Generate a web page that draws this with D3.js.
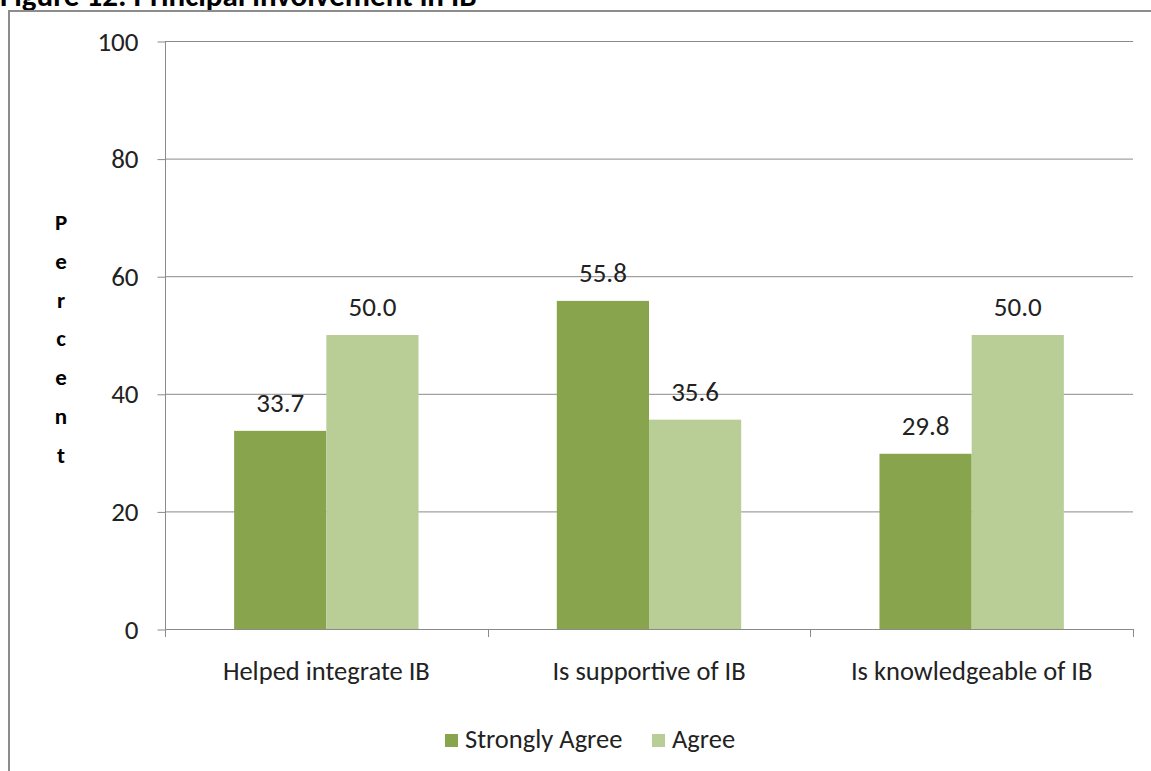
<!DOCTYPE html>
<html><head><meta charset="utf-8">
<script src="https://cdn.jsdelivr.net/npm/d3@7"></script>
<style>body{margin:0;background:#fff;} svg{display:block;}</style>
</head><body>
<script>
const categories = ["Helped integrate IB", "Is supportive of IB", "Is knowledgeable of IB"];
const seriesNames = ["Strongly Agree", "Agree"];
const stronglyAgree = [33.7, 55.8, 29.8];
const agree = [50.0, 35.6, 50.0];
const yTicks = [0, 20, 40, 60, 80, 100];
const colors = ["#88A44C", "#B9CE97"];
const titleText = "Figure 12: Principal involvement in IB";
const axisLabel = "Percent";

const W = 1151, H = 771;
const svg = d3.select("body").append("svg").attr("width", W).attr("height", H);
const font = "Carlito, Calibri, 'Open Sans', sans-serif";

// title (cropped at top)
svg.append("text").attr("x", 0).attr("y", 6).attr("font-family", font)
  .attr("font-weight", "bold").attr("font-size", 31).attr("fill", "#000").text(titleText);

// frame
svg.append("rect").attr("x", 9).attr("y", 11).attr("width", 1160).attr("height", 800)
  .attr("fill", "none").attr("stroke", "#8c8c8c").attr("stroke-width", 2);

const pLeft = 165, pRight = 1133, pTop = 41, pBottom = 629;
const y = d3.scaleLinear().domain([0, 100]).range([pBottom, pTop]);
const x0 = d3.scaleBand().domain(categories).range([pLeft, pRight]).paddingInner(0).paddingOuter(0);
const data = categories.map((c, i) => ({cat: c, vals: [stronglyAgree[i], agree[i]]}));
const bw = x0.bandwidth() / 3.5;
const x1 = d3.scaleBand().domain(seriesNames).range([(x0.bandwidth() - 2 * bw) / 2, (x0.bandwidth() + 2 * bw) / 2]).padding(0);

// gridlines
svg.append("g").selectAll("line").data(yTicks.filter(t => t > 0)).join("line")
  .attr("x1", pLeft).attr("x2", pRight).attr("y1", d => y(d) + 0.5).attr("y2", d => y(d) + 0.5)
  .attr("stroke", "#8a8a8a").attr("stroke-width", 1);

// y axis
const yAxis = d3.axisLeft(y).tickValues(yTicks).tickSize(8).tickPadding(19).tickFormat(d3.format("d"));
const yg = svg.append("g").attr("transform", `translate(${pLeft + 0.5},0.5)`).call(yAxis);
yg.select(".domain").attr("stroke", "#8a8a8a").attr("d", `M0,${pTop}V${pBottom}`);
yg.selectAll(".tick line").attr("stroke", "#8a8a8a");
yg.selectAll(".tick text").attr("font-family", font).attr("font-size", 27).attr("fill", "#222");

// bars
const groups = svg.append("g").selectAll("g").data(data).join("g")
  .attr("transform", d => `translate(${x0(d.cat)},0)`);
groups.selectAll("rect").data(d => d.vals.map((v, i) => ({name: seriesNames[i], v, i}))).join("rect")
  .attr("x", d => x1(d.name)).attr("width", x1.bandwidth())
  .attr("y", d => y(d.v)).attr("height", d => y(0) - y(d.v))
  .attr("fill", d => colors[d.i]);
groups.selectAll("text.val").data(d => d.vals.map((v, i) => ({name: seriesNames[i], v, i}))).join("text")
  .attr("class", "val")
  .attr("x", d => x1(d.name) + x1.bandwidth() / 2).attr("y", d => y(d.v) - 19)
  .attr("text-anchor", "middle").attr("font-family", font).attr("font-size", 27).attr("fill", "#222")
  .text(d => d3.format(".1f")(d.v));

// x axis
const xAxis = d3.axisBottom(x0).tickSize(0).tickPadding(32);
const xg = svg.append("g").attr("transform", `translate(0,${pBottom + 0.5})`).call(xAxis);
xg.select(".domain").attr("stroke", "#8a8a8a").attr("d", `M${pLeft},0H${pRight}`);
xg.selectAll(".tick text").attr("font-family", font).attr("font-size", 26.5).attr("fill", "#222");
svg.append("g").selectAll("line").data(categories.map((c) => x0(c)).concat([pRight])).join("line")
  .attr("x1", d => Math.round(d) + 0.5).attr("x2", d => Math.round(d) + 0.5)
  .attr("y1", pBottom).attr("y2", pBottom + 8).attr("stroke", "#8a8a8a");

// y axis label, stacked letters
svg.append("g").selectAll("text").data(axisLabel.split("")).join("text")
  .attr("x", 61).attr("y", (d, i) => 230 + i * 38.8).attr("text-anchor", "middle")
  .attr("font-family", font).attr("font-weight", "bold").attr("font-size", 23).attr("fill", "#000")
  .text(d => d);

// legend
const legendX = [445, 652];
const lg = svg.append("g").selectAll("g").data(seriesNames).join("g")
  .attr("transform", (d, i) => `translate(${legendX[i]},734)`);
lg.append("rect").attr("width", 13).attr("height", 13).attr("fill", (d, i) => colors[i]);
lg.append("text").attr("x", 20).attr("y", 14).attr("font-family", font).attr("font-size", 26.5)
  .attr("fill", "#222").text(d => d);
</script>
</body></html>
